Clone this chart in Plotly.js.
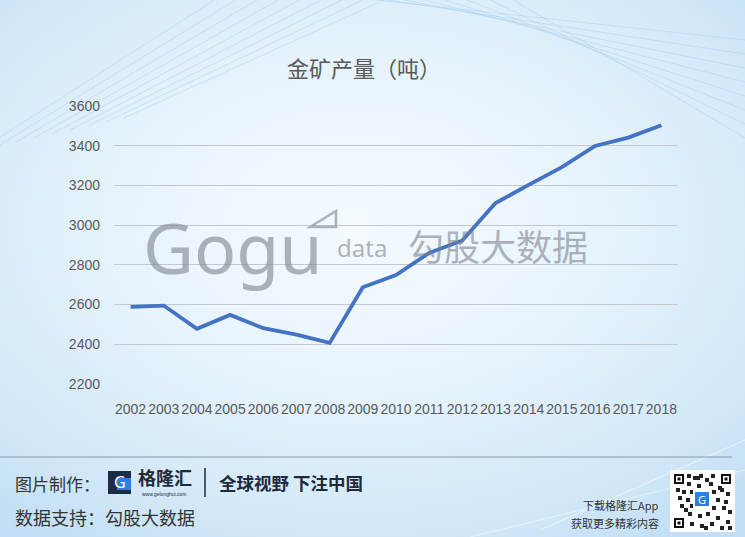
<!DOCTYPE html>
<html>
<head>
<meta charset="utf-8">
<script src="https://cdn.plot.ly/plotly-3.0.1.min.js"></script>
<style>
html,body{margin:0;padding:0;}
#chart{width:745px;height:537px;
background: radial-gradient(ellipse 75% 70% at 48% 42%, #f5fbff 0%, #e6f3fc 45%, #d2e8f8 80%, #c2dff5 100%);}
</style>
</head>
<body>
<div id="chart"></div>
<script>
// ---- data ----
var years = ["2002","2003","2004","2005","2006","2007","2008","2009","2010","2011","2012","2013","2014","2015","2016","2017","2018"];
var production = [2588, 2595, 2478, 2548, 2481, 2449, 2407, 2687, 2749, 2860, 2923, 3111, 3203, 3292, 3399, 3441, 3503];
var yTicks = [2200, 2400, 2600, 2800, 3000, 3200, 3400, 3600];
var titleText = "金矿产量（吨）";

// pixel helpers (plot area: x 114..678, y 106..384)
var L = 114, R = 678, T = 106, B = 384;
function px(x){ return (x - L) / (R - L); }
function py(y){ return (B - y) / (B - T); }

var trace = {
  x: years, y: production, type: "scatter", mode: "lines",
  line: {color: "#4472C4", width: 3.8},
  hoverinfo: "x+y"
};

var gray = "#595959";
var wm = "rgba(125,130,140,0.6)";
function ann(text, x, y, xanchor, font){
  return {text: text, x: px(x), y: py(y), xref: "paper", yref: "paper", xanchor: xanchor,
          yanchor: "middle", showarrow: false, font: font};
}
var annotations = [
  ann(titleText, 364, 67, "center", {family: "Noto Sans CJK SC", size: 22, color: gray}),
  // watermark
  ann("Gogu", 141, 247, "left", {family: "Noto Sans", size: 70, color: wm}),
  ann("data", 335, 248, "left", {family: "Noto Sans", size: 24, color: wm}),
  ann("勾股大数据", 406, 245, "left", {family: "Noto Sans CJK SC", size: 36, color: wm}),
  // footer
  ann("图片制作：", 13, 483, "left", {family: "Noto Sans CJK SC", size: 17, color: "#333333"}),
  ann("G", 120, 482, "center", {family: "Noto Sans", size: 16, color: "#ffffff"}),
  ann("<b>格隆汇</b>", 136, 477, "left", {family: "Noto Sans CJK SC", size: 18, color: "#1f2a3c"}),
  ann("www.gelonghui.com", 164, 494, "center", {family: "Liberation Sans", size: 5, color: "#1f2a3c"}),
  ann("<b>全球视野 下注中国</b>", 217, 482, "left", {family: "Noto Sans CJK SC", size: 17.5, color: "#1f2a3c"}),
  ann("数据支持：勾股大数据", 13, 517, "left", {family: "Noto Sans CJK SC", size: 18, color: "#333333"}),
  ann("下载格隆汇App", 661, 505, "right", {family: "Noto Sans CJK SC", size: 11, color: "#333333"}),
  ann("获取更多精彩内容", 661, 523, "right", {family: "Noto Sans CJK SC", size: 11, color: "#333333"}),
  ann("G", 702, 499, "center", {family: "Noto Sans", size: 11, color: "#ffffff"})
];

function rect(x0, y0, x1, y1, fill, line){
  return {type: "rect", xref: "paper", yref: "paper", x0: px(x0), x1: px(x1), y0: py(y0), y1: py(y1),
          fillcolor: fill, line: line || {width: 0}, layer: "above"};
}
function seg(x0, y0, x1, y1, color, w){
  return {type: "line", xref: "paper", yref: "paper", x0: px(x0), x1: px(x1), y0: py(y0), y1: py(y1),
          line: {color: color, width: w}, layer: "below"};
}

var shapes = [];
// decorative background strokes
var deco = "rgba(150,195,235,0.35)";
for (var i = 0; i < 9; i++) {
  shapes.push(seg(-20 + i * 18, 150 - i * 4, 230 + i * 22, -10, deco, 1));
}
for (var j = 0; j < 8; j++) {
  shapes.push(seg(330 + j * 25, -5, 745, 40 + j * 14, deco, 1));
}
shapes.push(seg(540, 530, 745, 440, "rgba(255,255,255,0.6)", 1));
shapes.push(seg(470, 537, 745, 470, "rgba(255,255,255,0.5)", 1));
// watermark triangle above the "u"
shapes.push({type: "path", xref: "paper", yref: "paper",
  path: "M " + px(310) + "," + py(227) + " L " + px(336) + "," + py(211) + " L " + px(336) + "," + py(227) + " Z",
  line: {color: wm, width: 2.5}, fillcolor: "rgba(0,0,0,0)", layer: "above"});
// footer separator
shapes.push(seg(0, 457, 732, 457, "#8a97a6", 1));
// logo box
shapes.push(rect(108, 471, 131, 494, "#1d2b45"));
shapes.push(rect(117, 478, 131, 490, "#2f7de1"));
// vertical bar
shapes.push(seg(205, 468, 205, 497, "#1f2a3c", 1.5));
// QR code
shapes.push(rect(670, 470, 735, 532, "#ffffff"));
var qrFinder = [[674, 474], [721, 474], [674, 518]];
qrFinder.forEach(function(p){
  shapes.push(rect(p[0], p[1], p[0] + 10, p[1] + 10, "#111111"));
  shapes.push(rect(p[0] + 2, p[1] + 2, p[0] + 8, p[1] + 8, "#ffffff"));
  shapes.push(rect(p[0] + 3.5, p[1] + 3.5, p[0] + 6.5, p[1] + 6.5, "#111111"));
});
var qrBits = [[687,474],[693,476],[699,474],[705,478],[711,474],[687,482],[697,484],[709,482],[676,488],[682,490],[690,490],[712,490],[720,488],[726,492],[678,496],[686,498],[716,498],[724,500],[680,504],[690,504],[712,506],[722,506],[728,510],[688,512],[698,514],[706,512],[716,516],[726,520],[690,522],[700,524],[710,522],[720,526],[728,526],[696,476],[718,486],[684,508],[704,526]];
qrBits.forEach(function(p){ shapes.push(rect(p[0], p[1], p[0] + 4, p[1] + 4, "#222222")); });
shapes.push(rect(693, 490, 711, 508, "#ffffff"));
shapes.push(rect(695, 492, 709, 506, "#2f7de1"));

var layout = {
  width: 745, height: 537,
  margin: {l: L, r: 745 - R, t: T, b: 537 - B},
  paper_bgcolor: "rgba(0,0,0,0)",
  plot_bgcolor: "rgba(0,0,0,0)",
  showlegend: false,
  xaxis: {
    type: "category", showgrid: false, zeroline: false, showline: false,
    ticks: "", tickangle: 0, ticklabelstandoff: 15,
    tickfont: {family: "Liberation Sans", size: 14, color: gray},
    range: [-0.5, years.length - 0.5], fixedrange: true
  },
  yaxis: {
    range: [2200, 3600], tickvals: yTicks, ticktext: yTicks.map(String),
    showgrid: true, gridcolor: "#c3c9cf", gridwidth: 1, zeroline: false, showline: false,
    ticks: "", ticklabelstandoff: 13,
    tickfont: {family: "Liberation Sans", size: 14, color: gray}, fixedrange: true
  },
  annotations: annotations,
  shapes: shapes
};

Plotly.newPlot("chart", [trace], layout, {displayModeBar: false, staticPlot: true});
</script>
</body>
</html>
